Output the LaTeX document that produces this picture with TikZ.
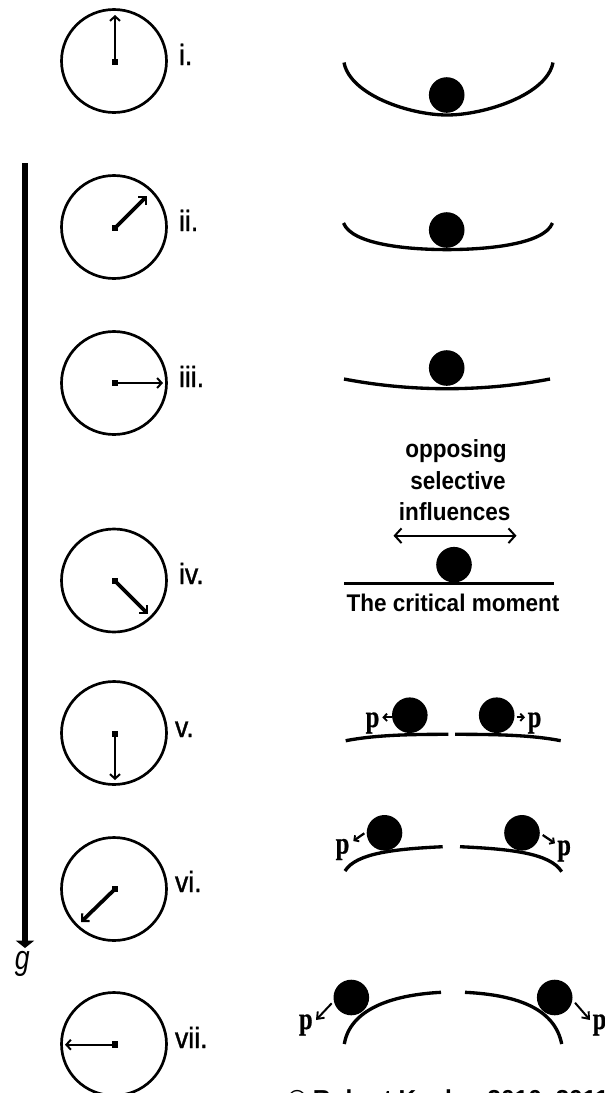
\documentclass[tikz,border=0pt]{standalone}
\usepackage{fontspec}
\setmainfont{Liberation Sans}
\newfontfamily\pfont[RawFeature={embolden=0.8}]{Liberation Serif}
\newfontfamily\numfont[RawFeature={embolden=1.2}]{Liberation Sans}
\usetikzlibrary{arrows.meta}
\tikzset{
  every node/.style={inner sep=0pt,outer sep=0pt},
  face/.style={draw=black,line width=2pt},
  hub/.style={fill=black,minimum size=5.2pt,rectangle},
  thinhand/.style={line width=1.6pt,-{Straight Barb[length=3.4pt,width=7.5pt,line width=1.5pt]}},
  thickhand/.style={line width=2.8pt,-{Straight Barb[length=4pt,width=8pt,line width=1.6pt]}},
  numeral/.style={anchor=base west,font=\numfont\fontsize{20}{20}\selectfont},
  ball/.style={circle,fill=black,minimum size=26.7pt},
  slope/.style={line width=2.5pt,line cap=butt},
  caption/.style={anchor=base,font=\bfseries\fontsize{16.9}{17}\selectfont},
  push/.style={anchor=base west,font=\pfont\bfseries\fontsize{18.4}{18}\selectfont},
  shortpush/.style={line width=1.7pt,-{Straight Barb[length=2.6pt,width=5.5pt,line width=1.4pt]}},
  longpush/.style={line width=1.5pt,-{Straight Barb[length=4.5pt,width=7pt,line width=1.4pt]}},
}
\newcommand{\tallen}[2]{\scalebox{1}[#1]{#2}}
\begin{document}
\begin{tikzpicture}[x=0.75pt,y=-0.75pt]
\useasboundingbox (0,0) rectangle (605,1093);
\fill[white] (0,0) rectangle (605,1093);
\clip (0,0) rectangle (605,1093);

% Gravity arrow
\coordinate (gtop) at (25,163);
\coordinate (gtip) at (25,948);
\draw[line width=4.9pt,-{Triangle[length=5.5pt,width=13.5pt]}] (gtop) -- (gtip);
\node[anchor=base west,font=\itshape\fontsize{20}{20}\selectfont] (glabel) at (15,969.5) {\tallen{1.27}{g}};

% Clock faces with hands
\draw[face] (114,61) ellipse (52.5 and 51.5);
\node[hub] (h1) at (115,62) {};
\coordinate (t1) at (115,15);
\draw[thinhand] (h1.center) -- (t1);
\node[numeral] (n1) at (179,65) {\tallen{1.1}{i.}};

\draw[face] (114,227) ellipse (52.5 and 51.5);
\node[hub] (h2) at (115,228) {};
\coordinate (t2) at (147,196);
\draw[thickhand] (h2.center) -- (t2);
\node[numeral] (n2) at (179,231) {\tallen{1.1}{ii.}};

\draw[face] (114,383) ellipse (52.5 and 51.5);
\node[hub] (h3) at (115,383) {};
\coordinate (t3) at (163,383);
\draw[thinhand] (h3.center) -- (t3);
\node[numeral] (n3) at (179,387) {\tallen{1.1}{iii.}};

\draw[face] (114,580.5) ellipse (52.5 and 51.5);
\node[hub] (h4) at (115,581) {};
\coordinate (t4) at (148,614);
\draw[thickhand] (h4.center) -- (t4);
\node[numeral] (n4) at (179,584) {\tallen{1.1}{iv.}};

\draw[face] (114,733) ellipse (52.5 and 51.5);
\node[hub] (h5) at (115,734) {};
\coordinate (t5) at (115,780);
\draw[thinhand] (h5.center) -- (t5);
\node[numeral] (n5) at (175,737) {\tallen{1.1}{v.}};

\draw[face] (114,889) ellipse (52.5 and 51.5);
\node[hub] (h6) at (115,889) {};
\coordinate (t6) at (81,922);
\draw[thickhand] (h6.center) -- (t6);
\node[numeral] (n6) at (175,892) {\tallen{1.1}{vi.}};

\draw[face] (114,1044) ellipse (52.5 and 51.5);
\node[hub] (h7) at (115,1044.7) {};
\coordinate (t7) at (65,1044.7);
\draw[thinhand] (h7.center) -- (t7);
\node[numeral] (n7) at (175,1048) {\tallen{1.1}{vii.}};

% Valleys, deepest first
\draw[slope] (344,62.5) .. controls (350,95) and (410,115) .. (447,115) .. controls (484,115) and (547,95) .. (553,62.5);
\node[ball] (b1) at (446.7,95) {};

\draw[slope] (343.5,223) .. controls (352,245) and (410,249.6) .. (447,249.6) .. controls (484,249.6) and (544,245) .. (552.5,223);
\node[ball] (b2) at (446.7,230) {};

\draw[slope] (344,379) .. controls (375,385) and (410,388.7) .. (447,388.7) .. controls (484,388.7) and (519,385) .. (550,379);
\node[ball] (b3) at (446.7,368) {};

% The critical moment
\node[caption] (c1) at (456,457) {\tallen{1.1}{opposing}};
\node[caption] (c2) at (458,489) {\tallen{1.1}{selective}};
\node[caption] (c3) at (454.7,520) {\tallen{1.1}{influences}};
\coordinate (oppl) at (393.5,535.7);
\coordinate (oppr) at (516.5,535.7);
\draw[line width=1.5pt,{Straight Barb[length=5pt,width=11pt,line width=1.5pt]}-{Straight Barb[length=5pt,width=11pt,line width=1.5pt]}] (oppl) -- (oppr);
\node[ball] (b4) at (454,564.7) {};
\coordinate (fl) at (344.3,583.3);
\coordinate (fr) at (554,583.3);
\draw[line width=2.6pt] (fl) -- (fr);
\node[caption] (c4) at (453,611.7) {\tallen{1.07}{The critical moment}};

% Split hill, slight
\draw[slope] (345.7,740.7) .. controls (375,735) and (410,734.3) .. (448.3,734.3);
\draw[slope] (455,734.3) .. controls (495,734.3) and (532,735) .. (560.7,740.7);
\node[ball] (b5l) at (409.8,715.2) {};
\node[ball] (b5r) at (496.7,715.2) {};
\node[push] (p5l) at (365.7,727) {\tallen{1.26}{p}};
\node[push] (p5r) at (527.7,727) {\tallen{1.26}{p}};
\coordinate (a5l) at (391.7,717.3);
\coordinate (e5l) at (382.3,717.3);
\coordinate (a5r) at (516.7,717.3);
\coordinate (e5r) at (525,717.3);
\draw[shortpush] (a5l) -- (e5l);
\draw[shortpush] (a5r) -- (e5r);

% Split hill, moderate
\draw[slope] (345,871) .. controls (356,853) and (395,849) .. (442.7,846.7);
\draw[slope] (460,846.7) .. controls (510,849) and (550,853) .. (561.7,871.7);
\node[ball] (b6l) at (384.5,832.8) {};
\node[ball] (b6r) at (522,832.8) {};
\node[push] (p6l) at (335.7,853.5) {\tallen{1.26}{p}};
\node[push] (p6r) at (557.3,855) {\tallen{1.26}{p}};
\coordinate (a6l) at (364.3,833.3);
\coordinate (e6l) at (353.3,841);
\coordinate (a6r) at (542.7,835);
\coordinate (e6r) at (555,843.3);
\draw[shortpush] (a6l) -- (e6l);
\draw[shortpush] (a6r) -- (e6r);

% Split hill, steep
\draw[slope] (344.3,1044) .. controls (350,1010) and (390,995) .. (441,992.3);
\draw[slope] (465,992.3) .. controls (520,995) and (555,1010) .. (561.7,1044);
\node[ball] (b7l) at (351.3,997.5) {};
\node[ball] (b7r) at (554.7,997.5) {};
\node[push] (p7l) at (299,1029) {\tallen{1.26}{p}};
\node[push] (p7r) at (592.7,1029) {\tallen{1.26}{p}};
\coordinate (a7l) at (331.7,1003.3);
\coordinate (e7l) at (316,1020);
\coordinate (a7r) at (575,1002.7);
\coordinate (e7r) at (590,1020);
\draw[longpush] (a7l) -- (e7l);
\draw[longpush] (a7r) -- (e7r);

% Credit line
\node[anchor=base west,font=\bfseries\fontsize{18.4}{18}\selectfont] (credit) at (288,1107.5) {© Robert Kaplan 2010, 2011};
\end{tikzpicture}
\end{document}
